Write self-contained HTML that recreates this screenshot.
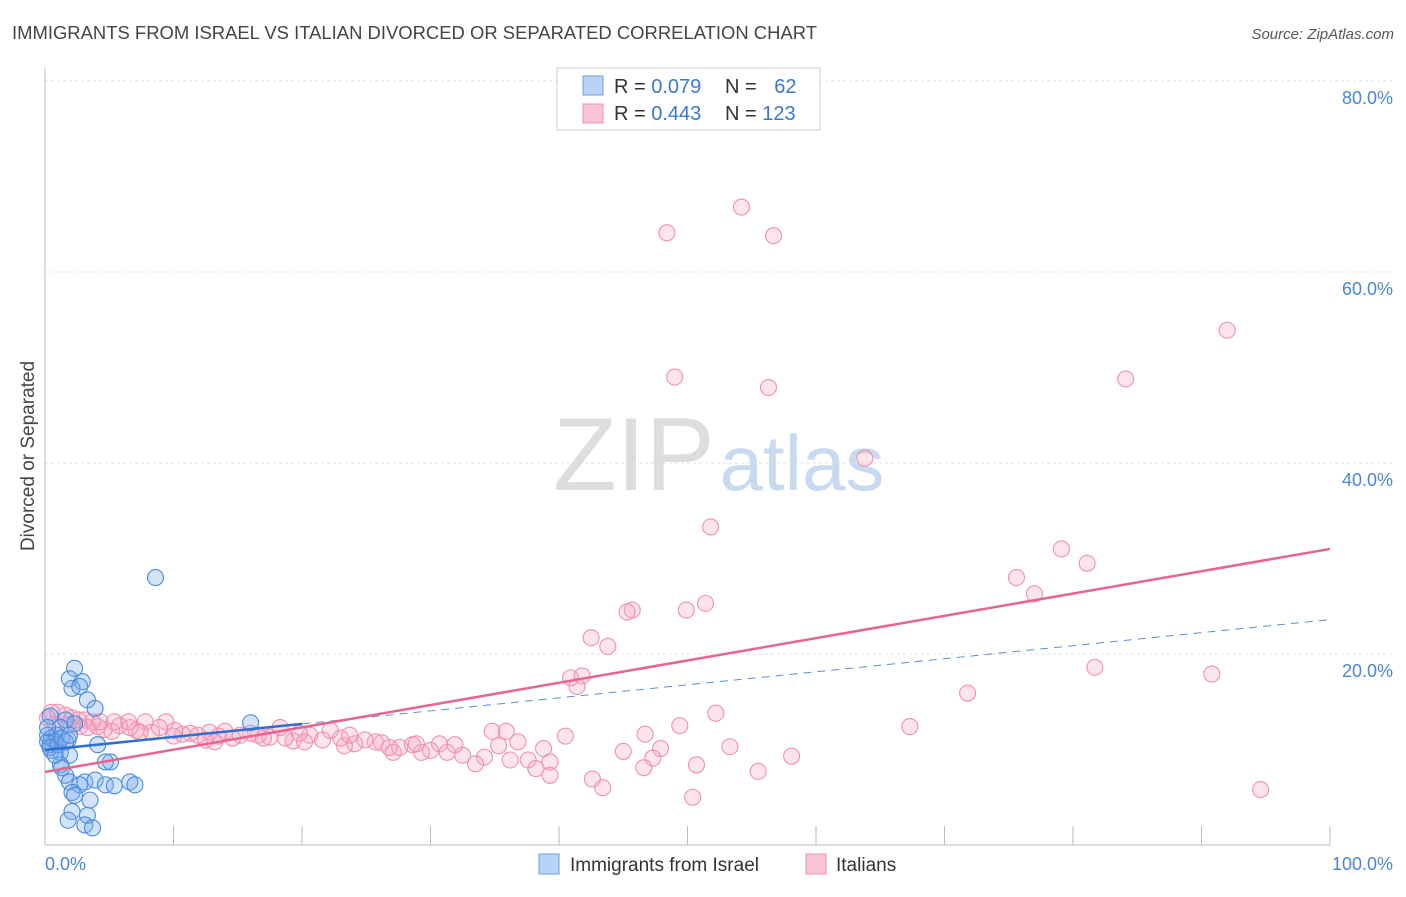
<!DOCTYPE html>
<html><head><meta charset="utf-8"><style>
body{margin:0;background:#fff;font-family:"Liberation Sans",sans-serif}
svg text{font-family:"Liberation Sans",sans-serif}
</style></head><body>
<svg id="chart" width="1406" height="892" xmlns="http://www.w3.org/2000/svg">
<text x="12" y="39" font-size="18.5" fill="#444" textLength="805" lengthAdjust="spacingAndGlyphs">IMMIGRANTS FROM ISRAEL VS ITALIAN DIVORCED OR SEPARATED CORRELATION CHART</text>
<text x="1394" y="39" font-size="15" fill="#555" text-anchor="end" font-style="italic">Source: ZipAtlas.com</text>
<text transform="translate(34,456) rotate(-90)" font-size="19" fill="#444" text-anchor="middle">Divorced or Separated</text>
<g>
<text x="634" y="490" font-size="104" fill="#ddd" text-anchor="middle" font-family="Liberation Serif">ZIP</text>
<text x="802" y="490" font-size="78" fill="#c8daf0" text-anchor="middle">atlas</text>
</g>
<g id="grid"></g>
<g id="axes"></g>
<g id="pts"></g>
<g id="lines"></g>
<g>
<rect x="557" y="68" width="263" height="62" fill="#fff" stroke="#ccc"/>
<rect x="583" y="76" width="20" height="19" fill="#b8d3f5" stroke="#6aa0e0"/>
<rect x="583" y="104" width="20" height="19" fill="#f9c4d3" stroke="#ef90b0"/>
<text x="614" y="93" font-size="20" fill="#333">R = <tspan fill="#3a78d0">0.079</tspan></text>
<text x="725" y="93" font-size="20" fill="#333">N = <tspan fill="#3a78d0" dx="12">62</tspan></text>
<text x="614" y="120" font-size="20" fill="#333">R = <tspan fill="#3a78d0">0.443</tspan></text>
<text x="725" y="120" font-size="20" fill="#333">N = <tspan fill="#3a78d0">123</tspan></text>
</g>
<g>
<rect x="539" y="854" width="20" height="20" fill="#b8d3f5" stroke="#6aa0e0"/>
<text x="570" y="871" font-size="19" fill="#333">Immigrants from Israel</text>
<rect x="806" y="854" width="20" height="20" fill="#f9c4d3" stroke="#ef90b0"/>
<text x="836" y="871" font-size="19" fill="#333">Italians</text>
</g>
</svg>
<script>
const yTicks=[20,40,60,80];
const yTickLabels=["20.0%","40.0%","60.0%","80.0%"];
const xTickLabels=["0.0%","100.0%"];
const blueX=[8.6,2.3,1.9,2.9,2.1,2.7,3.3,3.9,16.0,1.6,2.3,1.2,0.4,4.1,1.8,0.8,0.4,0.5,1.2,1.9,5.1,4.7,1.2,1.3,1.6,1.9,3.1,3.9,2.7,4.7,5.4,6.6,7.0,2.1,2.3,3.5,2.1,3.3,1.8,3.1,3.7,0.2,0.5,0.9,0.2,0.4,1.0,1.3,1.6,0.2,0.8,1.9];
const blueY=[28.0,18.5,17.4,17.1,16.4,16.6,15.2,14.3,12.8,13.1,12.7,12.3,13.5,10.5,11.0,10.8,10.5,9.9,9.7,9.4,8.7,8.7,8.4,8.1,7.3,6.6,6.6,6.8,6.3,6.3,6.2,6.6,6.3,5.5,5.2,4.7,3.5,3.1,2.6,2.1,1.8,11.5,11.2,11.5,10.8,10.2,10.5,11.2,10.8,12.3,9.4,11.5];
const pinkX=[54.2,48.4,56.7,92.0,49.0,84.1,56.3,63.8,51.8,79.1,81.1,75.6,77.0,51.4,45.7,45.3,49.9,42.5,43.8,81.7,90.8,40.9,41.8,41.4,71.8,52.2,67.3,49.4,46.7,34.8,35.9,40.5,53.3,47.9,45.0,58.1,47.3,50.7,46.6,55.5,42.6,43.4,50.4,94.6,35.3,36.8,38.8,39.3,37.6,38.2,39.3,36.2,34.2,33.5,32.5,31.9,30.7,30.0,29.3,28.6,27.6,27.1,26.2,25.7,24.9,24.1,23.3,23.0,22.2,21.6,20.6,19.8,19.3,18.7,18.3,17.5,16.6,16.0,15.2,14.6,14.0,13.5,12.8,12.5,11.9,11.3,10.7,10.1,9.4,8.9,8.3,7.8,7.1,6.5,5.8,5.2,4.6,4.1,3.7,3.1,2.7,2.1,1.6,1.0,0.5,0.2,0.8,1.8,2.6,3.3,4.3,5.4,6.6,7.4,10.0,13.2,17.0,20.2,23.7,26.8,28.9,31.3];
const pinkY=[66.8,64.1,63.8,53.9,49.0,48.8,47.9,40.5,33.3,31.0,29.5,28.0,26.3,25.3,24.6,24.4,24.6,21.7,20.8,18.6,17.9,17.5,17.7,16.6,15.9,13.8,12.4,12.5,11.6,11.9,11.9,11.4,10.3,10.1,9.8,9.3,9.1,8.4,8.1,7.7,6.9,6.0,5.0,5.8,10.4,10.8,10.1,8.7,8.9,8.0,7.3,8.9,9.2,8.5,9.4,10.5,10.6,9.9,9.7,10.5,10.2,9.7,10.7,10.8,11.0,10.6,10.4,11.2,12.0,11.0,11.5,11.7,10.9,11.2,12.3,11.3,11.5,11.7,11.5,11.2,11.9,11.4,11.8,11.0,11.5,11.7,11.6,12.0,12.9,12.3,11.8,12.9,12.0,12.9,12.5,11.9,12.1,12.4,12.9,13.1,12.4,13.3,13.6,13.9,13.9,13.3,12.6,12.6,13.1,12.3,12.9,12.9,12.3,11.8,11.4,10.8,11.2,10.8,11.5,10.2,10.6,9.7];
const blueFit=[9.95,23.6];
const pinkFit=[7.65,31.0];
const NS="http://www.w3.org/2000/svg";
const X0=45,X1=1330,Y0=845,YPER=9.55;
const sx=v=>X0+(X1-X0)*v/100;
const sy=v=>Y0-v*YPER;
function mk(tag,attrs,parent){const e=document.createElementNS(NS,tag);for(const k in attrs)e.setAttribute(k,attrs[k]);document.getElementById(parent).appendChild(e);return e;}
yTicks.forEach((t,i)=>{
 const g=mk('line',{x1:X0,x2:1395,y1:sy(t),y2:sy(t),stroke:'#e2e2e2','stroke-dasharray':'3,3'},'grid');
 
 
 const l=mk('text',{x:1393,y:sy(t)+23,'font-size':18,fill:'#4a86d8','text-anchor':'end'},'grid');
 l.textContent=yTickLabels[i];
 
 
});
const ax=mk('line',{x1:X0,x2:X0,y1:68,y2:Y0,stroke:'#bbb'},'axes');


const bx=mk('line',{x1:X0,x2:X1,y1:Y0,y2:Y0,stroke:'#bbb'},'axes');


for(let i=1;i<=10;i++){
 const t=mk('line',{x1:sx(i*10),x2:sx(i*10),y1:826,y2:Y0,stroke:'#bbb'},'axes');
 
 
}
[[0,'start',45],[100,'end',1393]].forEach((d,i)=>{
 const l=mk('text',{x:d[2],y:870,'font-size':18,fill:'#4a86d8','text-anchor':d[1]},'axes');
 l.textContent=xTickLabels[i];
 
 
});
pinkX.forEach((x,i)=>{
 const c=mk('circle',{cx:sx(x),cy:sy(pinkY[i]),r:8,fill:'rgba(245,165,195,0.3)',stroke:'#f090b0','stroke-width':1.1},'pts');
 
 
});
blueX.forEach((x,i)=>{
 const c=mk('circle',{cx:sx(x),cy:sy(blueY[i]),r:8,fill:'rgba(120,170,235,0.33)',stroke:'#4a8ce0','stroke-width':1.1},'pts');
 
 
});
const bAt=v=>blueFit[0]+(blueFit[1]-blueFit[0])*v/100;
const b1=mk('line',{x1:sx(0),y1:sy(bAt(0)),x2:sx(20),y2:sy(bAt(20)),stroke:'#2f6fd0','stroke-width':2.5},'lines');


const b2=mk('line',{x1:sx(20),y1:sy(bAt(20)),x2:sx(100),y2:sy(bAt(100)),stroke:'#5a8ed8','stroke-width':1,'stroke-dasharray':'8,6'},'lines');


const p=mk('line',{x1:sx(0),y1:sy(pinkFit[0]),x2:sx(100),y2:sy(pinkFit[1]),stroke:'#e8648e','stroke-width':2.5},'lines');


</script>
</body></html>
